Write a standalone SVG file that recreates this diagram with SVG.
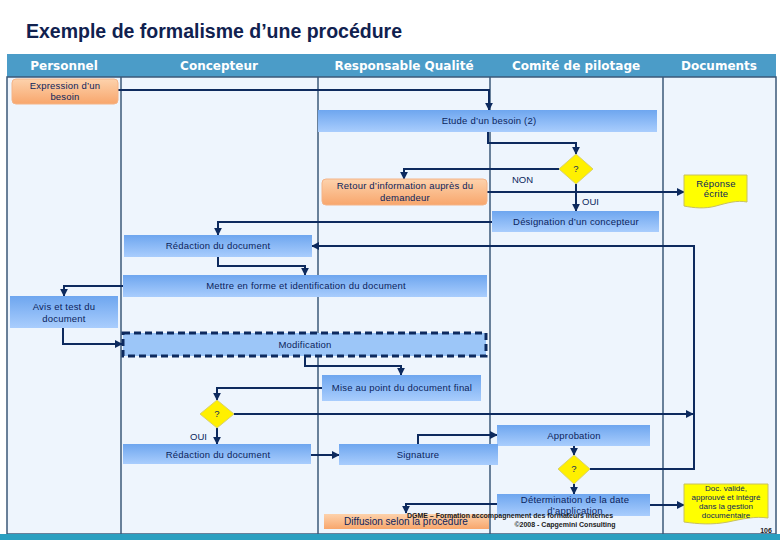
<svg xmlns="http://www.w3.org/2000/svg" width="780" height="540" viewBox="0 0 780 540">
<defs>
<linearGradient id="gBlue" x1="0" y1="0" x2="0" y2="1">
<stop offset="0" stop-color="#6ea6ef"/>
<stop offset="1" stop-color="#a9cdfd"/>
</linearGradient>
<linearGradient id="gOrange" x1="0" y1="0" x2="0" y2="1">
<stop offset="0" stop-color="#fdd2ac"/>
<stop offset="1" stop-color="#f8a66c"/>
</linearGradient>
<marker id="arr" viewBox="0 0 10 10" refX="9" refY="5" markerWidth="8" markerHeight="8" markerUnits="userSpaceOnUse" orient="auto">
<path d="M0,0 L10,5 L0,10 Z" fill="#0d2a5e"/>
</marker>
<style>
.title{font-family:"Liberation Sans",Arial,sans-serif;font-size:19.5px;font-weight:bold;fill:#10214f}
.hd{font-family:"DejaVu Sans","Liberation Sans",sans-serif;font-size:12px;font-weight:bold;fill:#ffffff;text-anchor:middle}
.t{font-family:"Liberation Sans",Arial,sans-serif;font-size:9.5px;letter-spacing:0.2px;fill:#0b1f5c;text-anchor:middle}
.sm{font-family:"Liberation Sans",Arial,sans-serif;font-size:8px;fill:#0b1f5c;text-anchor:middle}
.lb{font-family:"Liberation Sans",Arial,sans-serif;font-size:9.5px;fill:#0b1f5c}
.ft{font-family:"Liberation Sans",Arial,sans-serif;font-size:7px;font-weight:bold;fill:#1a1a1a;text-anchor:middle}
.box{fill:url(#gBlue)}
.or{fill:url(#gOrange);stroke:#f4b488;stroke-width:1}
.yel{fill:#ffff00;stroke:#c8c060;stroke-width:1}
.dia{fill:#fff000;stroke:#d8d070;stroke-width:1}
.lane{stroke:#3b5878;stroke-width:1.5;fill:none}
.ca{fill:none;stroke:#0d2a5e;stroke-width:2;marker-end:url(#arr)}
</style>
</defs>
<rect x="0" y="0" width="780" height="540" fill="#ffffff"/>
<text class="title" x="26" y="38">Exemple de formalisme d’une procédure</text>

<g id="lanes">
<rect x="7" y="77" width="769" height="457" fill="#eef5fd"/>
<rect x="7" y="54" width="769" height="23" fill="#4b9cc8"/>
<line class="lane" x1="121" y1="77" x2="121" y2="534"/>
<line class="lane" x1="318" y1="77" x2="318" y2="534"/>
<line class="lane" x1="490" y1="77" x2="490" y2="534"/>
<line class="lane" x1="663" y1="77" x2="663" y2="534"/>
<rect class="lane" x="7" y="77" width="769" height="457"/>
<text class="hd" x="64" y="70">Personnel</text>
<text class="hd" x="219" y="70">Concepteur</text>
<text class="hd" x="404" y="70">Responsable Qualité</text>
<text class="hd" x="576" y="70">Comité de pilotage</text>
<text class="hd" x="719" y="70">Documents</text>
</g>
<rect x="0" y="534" width="780" height="6" fill="#2a9fc0"/>

<g id="connectors">
<polyline class="ca" points="118,90 489,90 489,110"/>
<polyline class="ca" points="488,132 488,143 576,143 576,154"/>
<polyline class="ca" points="559,169 404,169 404,179"/>
<polyline class="ca" points="487,192 684,192"/>
<polyline class="ca" points="576,184 576,211"/>
<polyline class="ca" points="492,222 218,222 218,235"/>
<polyline class="ca" points="590,469 694,469 694,246 312,246"/>
<polyline class="ca" points="218,257 218,266 305,266 305,275"/>
<polyline class="ca" points="123,286 64,286 64,296"/>
<polyline class="ca" points="63,328 63,344 122,344"/>
<polyline class="ca" points="305,357 305,366 401,366 401,375"/>
<polyline class="ca" points="322,388 217,388 217,400"/>
<polyline class="ca" points="234,414 693,414"/>
<polyline class="ca" points="217,428 217,444"/>
<polyline class="ca" points="311,455 339,455"/>
<polyline class="ca" points="418,444 418,435 497,435"/>
<polyline class="ca" points="574,446 574,455"/>
<polyline class="ca" points="574,484 574,494"/>
<polyline class="ca" points="497,504 406,504 406,513"/>
<polyline class="ca" points="650,505 684,505"/>
</g>

<g id="n-expression">
<rect class="or" x="12" y="79" width="106" height="25" rx="4"/>
<text class="t" x="65" y="89">Expression d’un</text>
<text class="t" x="65" y="100">besoin</text>
</g>
<g id="n-etude">
<rect class="box" x="318" y="110" width="339" height="22"/>
<text class="t" x="489" y="124">Etude d’un besoin (2)</text>
</g>
<g id="n-q1">
<polygon class="dia" points="576,154 593,169 576,184 559,169"/>
<text class="t" x="576" y="172">?</text>
</g>
<g id="n-retour">
<rect class="or" x="322" y="179" width="165" height="26" rx="4"/>
<text class="t" x="405" y="189">Retour d’information auprès du</text>
<text class="t" x="405" y="201">demandeur</text>
</g>
<text class="lb" x="512" y="183">NON</text>
<text class="lb" x="582" y="205">OUI</text>
<g id="n-reponse">
<path class="yel" d="M684,175 H747 V202 C737,200 727,203 716,206 C705,209 694,208 684,206 Z"/>
<text class="t" x="716" y="187">Réponse</text>
<text class="t" x="716" y="197">écrite</text>
</g>
<g id="n-designation">
<rect class="box" x="492" y="211" width="167" height="21"/>
<text class="t" x="576" y="225">Désignation d’un concepteur</text>
</g>
<g id="n-redaction1">
<rect class="box" x="124" y="235" width="188" height="22"/>
<text class="t" x="218" y="249">Rédaction du document</text>
</g>
<g id="n-mettre">
<rect class="box" x="123" y="275" width="364" height="22"/>
<text class="t" x="306" y="289">Mettre en forme et identification du document</text>
</g>
<g id="n-avis">
<rect class="box" x="10" y="296" width="108" height="32"/>
<text class="t" x="64" y="310">Avis et test du</text>
<text class="t" x="64" y="322">document</text>
</g>
<g id="n-modification">
<rect x="123" y="333" width="363" height="23" fill="#9cc6f8" stroke="#0d2a5e" stroke-width="3" stroke-dasharray="7,4"/>
<text class="t" x="305" y="348">Modification</text>
</g>
<g id="n-mise">
<rect class="box" x="322" y="375" width="159" height="26"/>
<text class="t" x="402" y="391">Mise au point du document final</text>
</g>
<g id="n-q2">
<polygon class="dia" points="217,400 234,414 217,428 200,414"/>
<text class="t" x="217" y="417">?</text>
</g>
<text class="lb" x="190" y="440">OUI</text>
<g id="n-redaction2">
<rect class="box" x="123" y="444" width="188" height="20"/>
<text class="t" x="218" y="458">Rédaction du document</text>
</g>
<g id="n-approbation">
<rect class="box" x="497" y="425" width="153" height="21"/>
<text class="t" x="574" y="439">Approbation</text>
</g>
<g id="n-signature">
<rect class="box" x="339" y="444" width="159" height="21"/>
<text class="t" x="418" y="458">Signature</text>
</g>
<g id="n-q3">
<polygon class="dia" points="574,455 590,469 574,484 558,469"/>
<text class="t" x="574" y="472">?</text>
</g>
<g id="n-determination">
<rect class="box" x="497" y="494" width="153" height="22"/>
<text class="t" x="575" y="503">Détermination de la date</text>
<text class="t" x="575" y="514">d’application</text>
</g>
<g id="n-diffusion">
<rect x="324" y="514" width="165" height="15" fill="url(#gOrange)"/>
<text x="406" y="525" font-family="Liberation Sans,Arial,sans-serif" font-size="10px" fill="#0b1f5c" text-anchor="middle">Diffusion selon la procédure</text>
</g>
<g id="n-docvalide">
<path class="yel" d="M684,484 H768 V518 C755,516 742,519 728,522 C712,525 698,524 684,522 Z"/>
<text class="sm" x="726" y="491">Doc. validé,</text>
<text class="sm" x="726" y="500">approuvé et intégré</text>
<text class="sm" x="726" y="509">dans la gestion</text>
<text class="sm" x="726" y="518">documentaire</text>
</g>
<text class="ft" x="510" y="518">DGME – Formation accompagnement des formateurs internes</text>
<text class="ft" x="565" y="527">©2008 - Capgemini Consulting</text>
<text class="ft" x="766" y="533">106</text>
</svg>
